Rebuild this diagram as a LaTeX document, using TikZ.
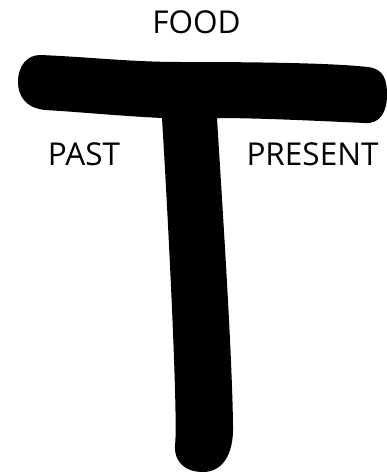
\documentclass[tikz,border=0pt]{standalone}
\usepackage{fontspec}
\setmainfont{Open Sans}
\begin{document}
\begin{tikzpicture}[x=1pt,y=-1pt,
  lbl/.style={font=\fontsize{31.5}{36}\selectfont, inner sep=0pt, anchor=base, text=black}]
\useasboundingbox (0,0) rectangle (387,474);
% T shape
\fill[black] (40,55) .. controls (90,57) and (130,62) .. (180,62)
  .. controls (260,62) and (330,63) .. (368,67)
  .. controls (384,69) and (387,80) .. (387,95)
  .. controls (387,112) and (380,124) .. (365,123)
  .. controls (320,121) and (260,118) .. (217,118)
  .. controls (222,200) and (232,350) .. (233,425)
  .. controls (234,455) and (222,472) .. (203,472)
  .. controls (185,472) and (174,462) .. (175,445)
  .. controls (178,425) and (170,250) .. (162,118)
  .. controls (120,116) and (80,112) .. (45,110)
  .. controls (25,108) and (18,95) .. (18,82)
  .. controls (18,65) and (28,55) .. (40,55) -- cycle;
\node[lbl] (food) at (196.5,33) {FOOD};
\node[lbl] (past) at (84,165) {PAST};
\node[lbl] (present) at (312.5,165) {PRESENT};
\end{tikzpicture}
\end{document}
